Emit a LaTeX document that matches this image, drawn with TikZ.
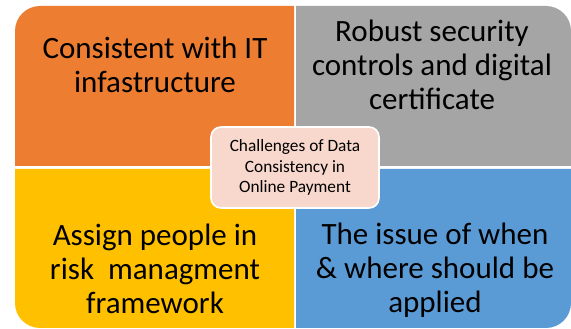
\documentclass[tikz,border=0pt]{standalone}
\usepackage{fontspec}
\setmainfont{Carlito}
\definecolor{qorange}{HTML}{ED7D31}
\definecolor{qgrey}{HTML}{A5A5A5}
\definecolor{qyellow}{HTML}{FFC000}
\definecolor{qblue}{HTML}{5B9BD5}
\definecolor{hubfill}{HTML}{F8D8CD}
\tikzset{
  bigtext/.style={align=center, font=\fontsize{31}{34}\selectfont, text=black, inner sep=0pt},
  hub/.style={draw=white, line width=1.6pt, fill=hubfill, rounded corners=10pt,
    minimum width=168pt, minimum height=81pt, align=center,
    font=\fontsize{17.3}{20.8}\selectfont, inner sep=0pt}
}
\begin{document}
\begin{tikzpicture}[x=1pt,y=1pt]
\useasboundingbox (0,0) rectangle (571,329);
% four quadrants, each with one rounded outer corner
\fill[qorange] (15,163) -- (15,298) arc[start angle=180,end angle=90,radius=25] -- (294,323) -- (294,163) -- cycle;
\fill[qgrey] (296,163) -- (296,323) -- (546,323) arc[start angle=90,end angle=0,radius=25] -- (571,163) -- cycle;
\fill[qyellow] (15,160) -- (294,160) -- (294,1) -- (40,1) arc[start angle=270,end angle=180,radius=25] -- cycle;
\fill[qblue] (296,160) -- (571,160) -- (571,26) arc[start angle=0,end angle=-90,radius=25] -- (296,1) -- cycle;
% quadrant texts
\node[bigtext] (it) at (155,264) {Consistent with IT\\infastructure};
\node[bigtext] (sec) at (432,264) {Robust security\\controls and digital\\certificate};
\node[bigtext] (risk) at (155,60) {Assign people in\\risk\ \ managment\\framework};
\node[bigtext] (when) at (435,59) {The issue of when\\\& where should be\\applied};
% central hub
\node[hub] (hubbox) at (295,161.5) {Challenges of Data\\Consistency in\\Online Payment};
\end{tikzpicture}
\end{document}
